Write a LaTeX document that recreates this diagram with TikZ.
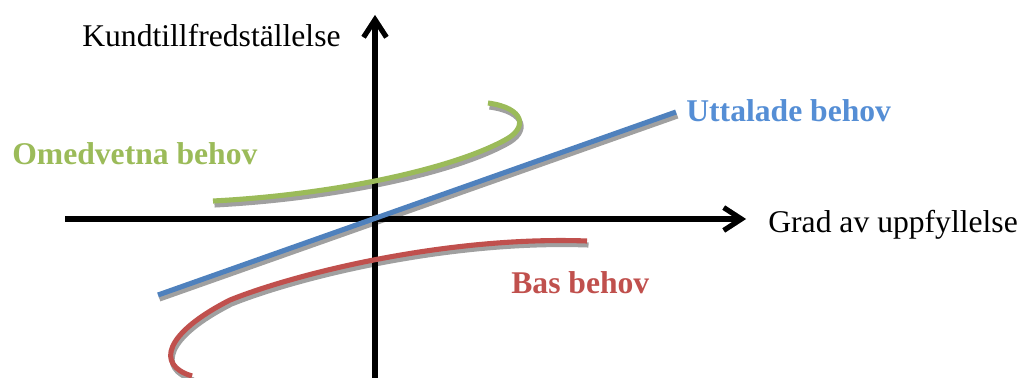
\documentclass[tikz,border=0pt]{standalone}
\usepackage{fontspec}
\setmainfont{Liberation Serif}
\usetikzlibrary{arrows.meta, positioning}
\definecolor{grongul}{HTML}{9BBB59}
\definecolor{blaa}{HTML}{4F81BD}
\definecolor{roed}{HTML}{C0504D}
\definecolor{blaatext}{HTML}{558ED5}
\definecolor{skugga}{HTML}{A0A0A0}
\tikzset{
  axel/.style={line width=2.9pt, -{Straight Barb[length=10pt, width=13pt]}},
  kurva/.style={line width=2.9pt},
  etikett/.style={anchor=base west, inner sep=0pt, font=\fontsize{18}{20}\selectfont},
}
\begin{document}
\begin{tikzpicture}[x=0.02cm, y=-0.02cm]
\useasboundingbox (0,0) rectangle (1020,378);
% Axlar
\coordinate (xa) at (65,219);
\coordinate (xb) at (746,219);
\coordinate (ya) at (375,380);
\coordinate (yb) at (375,15);
% Skuggor
\begin{scope}[shift={(1.5,4)}, color=skugga]
\draw[axel] (xa) -- (xb);
\draw[axel] (ya) -- (yb);
\draw[kurva] (158,295) -- (676,112);
\draw[kurva] (488,103) .. controls (525,108) and (528,128) .. (505,140)
  .. controls (450,170) and (330,195) .. (213,201);
\draw[kurva] (587,241) .. controls (450,236) and (300,272) .. (230,300)
  .. controls (165,333) and (155,365) .. (192,376);
\end{scope}
% Kurvor
\draw[axel] (xa) -- (xb);
\draw[axel] (ya) -- (yb);
\draw[kurva, blaa] (158,295) -- (676,112);
\draw[kurva, grongul] (488,103) .. controls (525,108) and (528,128) .. (505,140)
  .. controls (450,170) and (330,195) .. (213,201);
\draw[kurva, roed] (587,241) .. controls (450,236) and (300,272) .. (230,300)
  .. controls (165,333) and (155,365) .. (192,376);
% Texter
\node[etikett] (ytext) at (82,47) {Kundtillfredställelse};
\node[etikett] (xtext) at (768,233) {Grad av uppfyllelse};
\node[etikett, blaatext, font=\fontsize{18}{20}\selectfont\bfseries] (uttalade) at (686,122) {Uttalade behov};
\node[etikett, grongul, font=\fontsize{18}{20}\selectfont\bfseries] (omedvetna) at (12,165) {Omedvetna behov};
\node[etikett, roed, font=\fontsize{18}{20}\selectfont\bfseries] (bas) at (511,293) {Bas behov};
\end{tikzpicture}
\end{document}
